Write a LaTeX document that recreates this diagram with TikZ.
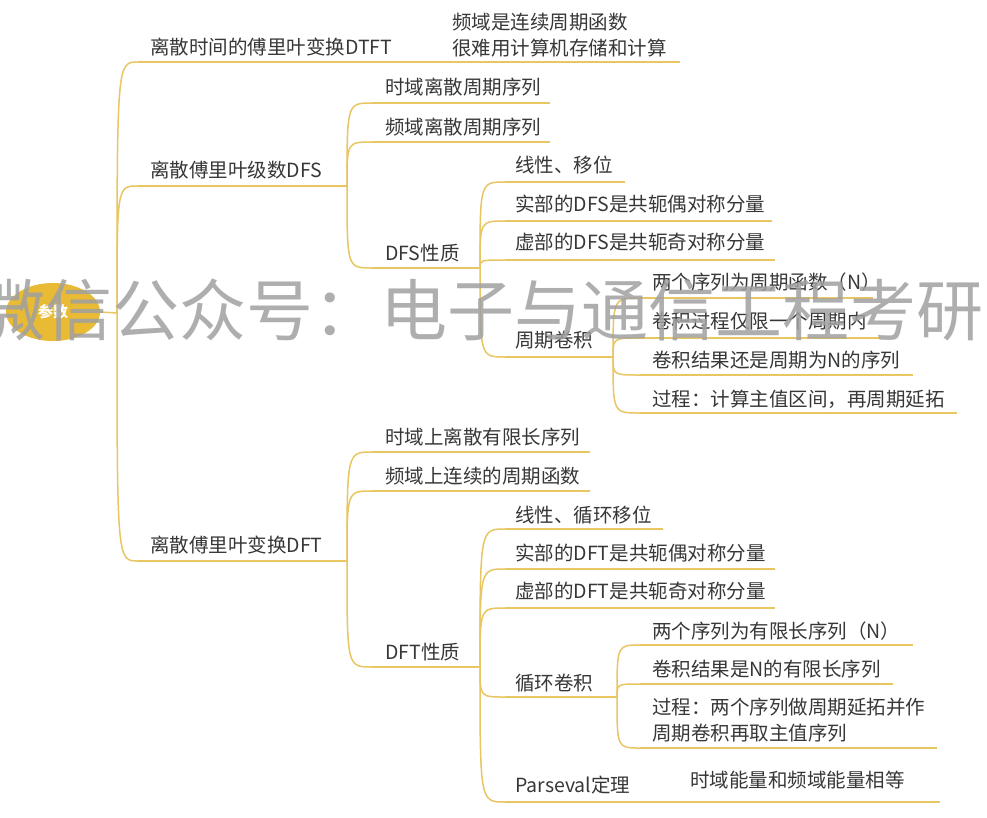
\documentclass[tikz,border=0pt]{standalone}
\usepackage{fontspec}
\setmainfont{Noto Sans CJK SC}
\usetikzlibrary{shapes.geometric,calc}
\definecolor{ln}{RGB}{232,198,98}
\definecolor{rootc}{RGB}{233,186,52}
\definecolor{txt}{RGB}{55,55,55}
\definecolor{wm}{RGB}{160,160,160}
\tikzset{
  topic/.style={anchor=base west, inner sep=0pt, text=txt, font=\fontsize{19.5}{25.5}\selectfont},
  topic2/.style={anchor=west, inner sep=0pt, text=txt, align=left, font=\fontsize{19.5}{25.5}\selectfont},
  uline/.style={draw=ln, line width=2.2pt},
  mmcurve/.style={draw=ln, line width=1.5pt},
  rootnode/.style={ellipse, fill=rootc, draw=none, minimum width=94pt, minimum height=58pt, inner sep=0pt, text=white, font=\fontsize{15}{15}\selectfont\bfseries},
  wmark/.style={anchor=west, inner sep=0pt, text=wm, opacity=0.85, font=\fontsize{67}{67}\selectfont}
}
\newcommand\mmlink[2]{\draw[mmcurve] (#1) .. controls (#1 |- #2) and (#1 |- #2) .. (#2);}
\newcommand\mmunder[1]{\draw[uline] (#1-l) -- (#1-r);}
\begin{document}
\begin{tikzpicture}[x=1pt,y=-1pt]
\useasboundingbox (0,0) rectangle (987,817);
\fill[white] (0,0) rectangle (987,817);

% root
\node[rootnode] (R) at (53,312) {参数};
\coordinate (J0) at (117,313);
\draw[mmcurve] (R.east) -- (J0);

% level 1
\coordinate (A-l) at (138,62);  \coordinate (A-r) at (440,62);
\coordinate (B-l) at (138,186); \coordinate (B-r) at (347,186);
\coordinate (C-l) at (138,561); \coordinate (C-r) at (347,561);
\node[topic] (A) at (150,54) {离散时间的傅里叶变换DTFT};
\node[topic] (B) at (150,177) {离散傅里叶级数DFS};
\node[topic] (C) at (150,552) {离散傅里叶变换DFT};
\mmlink{J0}{A-l} \mmlink{J0}{B-l} \mmlink{J0}{C-l}
\mmunder{A} \mmunder{B} \mmunder{C}

% DTFT child
\coordinate (A1-l) at (440,62); \coordinate (A1-r) at (680,62);
\node[topic2] (A1) at (452,35) {频域是连续周期函数\\很难用计算机存储和计算};
\mmunder{A1}

% DFS children
\coordinate (B1-l) at (372,103); \coordinate (B1-r) at (550,103);
\coordinate (B2-l) at (372,142); \coordinate (B2-r) at (550,142);
\coordinate (B3-l) at (372,268); \coordinate (B3-r) at (480,268);
\node[topic] (B1) at (385,94) {时域离散周期序列};
\node[topic] (B2) at (385,134) {频域离散周期序列};
\node[topic] (B3) at (385,260) {DFS性质};
\mmlink{B-r}{B1-l} \mmlink{B-r}{B2-l} \mmlink{B-r}{B3-l}
\mmunder{B1} \mmunder{B2} \mmunder{B3}

% DFS properties
\coordinate (B31-l) at (505,182); \coordinate (B31-r) at (625,182);
\coordinate (B32-l) at (505,221); \coordinate (B32-r) at (772,221);
\coordinate (B33-l) at (505,260); \coordinate (B33-r) at (775,260);
\coordinate (B34-l) at (505,357); \coordinate (B34-r) at (613,357);
\node[topic] (B31) at (515,172) {线性、移位};
\node[topic] (B32) at (515,211) {实部的DFS是共轭偶对称分量};
\node[topic] (B33) at (515,249) {虚部的DFS是共轭奇对称分量};
\node[topic] (B34) at (515,347) {周期卷积};
\mmlink{B3-r}{B31-l} \mmlink{B3-r}{B32-l} \mmlink{B3-r}{B33-l} \mmlink{B3-r}{B34-l}
\mmunder{B31} \mmunder{B32} \mmunder{B33} \mmunder{B34}

% periodic convolution
\coordinate (B341-l) at (640,298); \coordinate (B341-r) at (873,298);
\coordinate (B342-l) at (640,338); \coordinate (B342-r) at (880,338);
\coordinate (B343-l) at (640,375); \coordinate (B343-r) at (913,375);
\coordinate (B344-l) at (640,413); \coordinate (B344-r) at (957,413);
\node[topic] (B341) at (652,289) {两个序列为周期函数（N）};
\node[topic] (B342) at (652,328) {卷积过程仅限一个周期内};
\node[topic] (B343) at (652,367) {卷积结果还是周期为N的序列};
\node[topic] (B344) at (652,406) {过程：计算主值区间，再周期延拓};
\mmlink{B34-r}{B341-l} \mmlink{B34-r}{B342-l} \mmlink{B34-r}{B343-l} \mmlink{B34-r}{B344-l}
\mmunder{B341} \mmunder{B342} \mmunder{B343} \mmunder{B344}

% DFT children
\coordinate (C1-l) at (372,452); \coordinate (C1-r) at (590,452);
\coordinate (C2-l) at (372,491); \coordinate (C2-r) at (590,491);
\coordinate (C3-l) at (372,667); \coordinate (C3-r) at (480,667);
\node[topic] (C1) at (385,444) {时域上离散有限长序列};
\node[topic] (C2) at (385,483) {频域上连续的周期函数};
\node[topic] (C3) at (385,659) {DFT性质};
\mmlink{C-r}{C1-l} \mmlink{C-r}{C2-l} \mmlink{C-r}{C3-l}
\mmunder{C1} \mmunder{C2} \mmunder{C3}

% DFT properties
\coordinate (C31-l) at (505,529); \coordinate (C31-r) at (663,529);
\coordinate (C32-l) at (505,569); \coordinate (C32-r) at (775,569);
\coordinate (C33-l) at (505,608); \coordinate (C33-r) at (775,608);
\coordinate (C34-l) at (505,697); \coordinate (C34-r) at (617,697);
\coordinate (C35-l) at (505,802); \coordinate (C35-r) at (660,802);
\node[topic] (C31) at (515,522) {线性、循环移位};
\node[topic] (C32) at (515,560) {实部的DFT是共轭偶对称分量};
\node[topic] (C33) at (515,598) {虚部的DFT是共轭奇对称分量};
\node[topic] (C34) at (515,690) {循环卷积};
\node[topic] (C35) at (515,792) {Parseval定理};
\mmlink{C3-r}{C31-l} \mmlink{C3-r}{C32-l} \mmlink{C3-r}{C33-l} \mmlink{C3-r}{C34-l} \mmlink{C3-r}{C35-l}
\mmunder{C31} \mmunder{C32} \mmunder{C33} \mmunder{C34} \mmunder{C35}

% circular convolution
\coordinate (C341-l) at (640,645); \coordinate (C341-r) at (913,645);
\coordinate (C342-l) at (640,684); \coordinate (C342-r) at (893,684);
\coordinate (C343-l) at (640,748); \coordinate (C343-r) at (937,748);
\node[topic] (C341) at (652,638) {两个序列为有限长序列（N）};
\node[topic] (C342) at (652,676) {卷积结果是N的有限长序列};
\node[topic2] (C343) at (652,720) {过程：两个序列做周期延拓并作\\周期卷积再取主值序列};
\mmlink{C34-r}{C341-l} \mmlink{C34-r}{C342-l} \mmlink{C34-r}{C343-l}
\mmunder{C341} \mmunder{C342} \mmunder{C343}

% Parseval child
\coordinate (C351-l) at (660,802); \coordinate (C351-r) at (940,802);
\node[topic] (C351) at (690,787) {时域能量和频域能量相等};
\mmunder{C351}

% watermark
\node[wmark] (WM) at (-22,310) {微信公众号：电子与通信工程考研};
\end{tikzpicture}
\end{document}
